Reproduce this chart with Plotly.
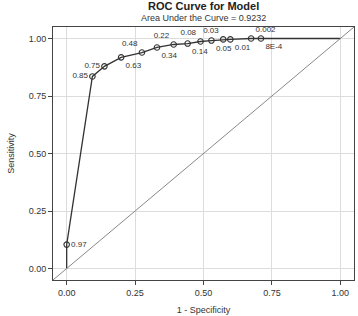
import plotly.graph_objects as go

# ROC curve data (1 - specificity, sensitivity)
fpr = [0.0, 0.0, 0.094, 0.138, 0.199, 0.275, 0.330, 0.391, 0.442, 0.489, 0.529, 0.572, 0.598, 0.674, 0.710, 1.0]
tpr = [0.0, 0.104, 0.835, 0.879, 0.918, 0.939, 0.961, 0.974, 0.978, 0.987, 0.991, 0.996, 0.996, 1.0, 1.0, 1.0]
# cutoff labels for the marked points (points 1..14 above)
cutoffs = ["0.97", "0.85", "0.75", "0.63", "0.48", "0.34", "0.22", "0.14", "0.08", "0.05", "0.03", "0.01", "0.002", "8E-4"]
label_pos = ["middle right", "middle left", "middle left", "bottom right", "top left", "bottom right",
             "top left", "bottom right", "top left", "bottom right", "top left", "bottom right",
             "top right", "bottom right"]
tick_vals = [0, 0.25, 0.5, 0.75, 1.0]
tick_text = ["0.00", "0.25", "0.50", "0.75", "1.00"]
auc = 0.9232

font_family = "Liberation Sans, Arial, sans-serif"
ink = "#333333"

fig = go.Figure()
fig.add_trace(go.Scatter(x=fpr, y=tpr, mode="lines",
                         line=dict(color=ink, width=1.3), hoverinfo="skip", showlegend=False))
fig.add_trace(go.Scatter(x=fpr[1:-1], y=tpr[1:-1], mode="markers+text",
                         text=cutoffs, textposition=label_pos,
                         textfont=dict(family=font_family, size=8, color=ink),
                         marker=dict(symbol="circle-open", size=5.5, color=ink, line=dict(width=1.1)),
                         showlegend=False))

fig.add_shape(type="line", xref="x domain", yref="y domain", x0=0, y0=0, x1=1, y1=1,
              line=dict(color="#888888", width=1))

axis_common = dict(range=[-0.05, 1.05], tickvals=tick_vals, ticktext=tick_text,
                   showgrid=True, gridcolor="#dcdcdc", gridwidth=1, zeroline=False,
                   showline=True, linecolor="#444444", linewidth=1, mirror=True,
                   ticks="outside", ticklen=4, tickcolor="#444444",
                   tickfont=dict(family=font_family, size=9, color=ink))

fig.update_xaxes(title=dict(text="1 - Specificity", font=dict(family=font_family, size=9, color=ink), standoff=9),
                 **axis_common)
fig.update_yaxes(title=dict(text="Sensitivity", font=dict(family=font_family, size=9, color=ink), standoff=12),
                 **axis_common)

fig.add_annotation(text="<b>ROC Curve for Model</b>", xref="paper", yref="paper", x=0.5, y=1,
                   yshift=13, yanchor="bottom", showarrow=False,
                   font=dict(family=font_family, size=11, color="#222222"))
fig.add_annotation(text=f"Area Under the Curve = {auc:.4f}", xref="paper", yref="paper", x=0.5, y=1,
                   yshift=2, yanchor="bottom", showarrow=False,
                   font=dict(family=font_family, size=9, color=ink))

fig.update_layout(width=358, height=316, margin=dict(l=53, r=3, t=27, b=34),
                  plot_bgcolor="white", paper_bgcolor="white",
                  font=dict(family=font_family, color=ink))

fig.write_html("out.html", config={"displayModeBar": False},
               post_script="document.body.style.margin='0';document.body.style.overflow='hidden';")
